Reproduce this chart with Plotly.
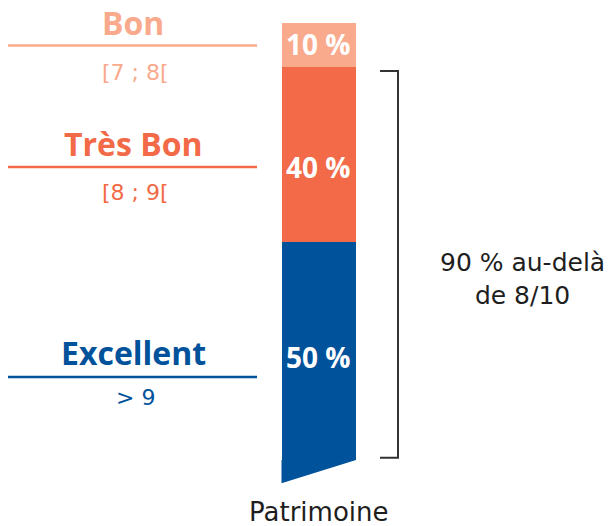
import plotly.graph_objects as go

# ---- data ----
category = "Patrimoine"
segments = ["Excellent", "Très Bon", "Bon"]
values = [50, 40, 10]
value_labels = ["50 %", "40 %", "10 %"]
ranges = ["> 9", "[8 ; 9[", "[7 ; 8["]
bracket_text = "90 % au-delà<br>de 8/10"
bracket_span = [0, 90]

colors = {"Excellent": "#00529B", "Très Bon": "#F26A47", "Bon": "#F9AA8C"}

W, H = 611, 526
# pixel geometry helpers
bar_left_px, bar_right_px = 281.5, 356
px_per_x = bar_right_px - bar_left_px
xc = (bar_left_px + bar_right_px) / 2
y0_px_top = 460
px_per_y = 4.37
x_range = [-xc / px_per_x, (W - xc) / px_per_x]
y_range = [-(H - y0_px_top) / px_per_y, y0_px_top / px_per_y]

def xd(px):
    return (px - xc) / px_per_x

def yp(px_top):
    return 1 - px_top / H

BOLD = "Open Sans"
REG = "DejaVu Sans"

fig = go.Figure()

base = 0
label_shift = {"Excellent": -6, "Très Bon": -13, "Bon": 1}
for seg, v, lab in zip(segments, values, value_labels):
    fig.add_trace(go.Bar(
        x=[0], y=[v], width=1, name=seg,
        marker=dict(color=colors[seg], line=dict(width=0)),
        hoverinfo="skip", showlegend=False,
    ))
    fig.add_annotation(
        x=0, y=base + v / 2, xref="x", yref="y", text=f"<b>{lab}</b>",
        showarrow=False, xanchor="center", yanchor="middle",
        yshift=label_shift[seg],
        font=dict(family=BOLD, size=28, color="white"),
    )
    base += v

# slanted bottom of the bar (decorative)
slant = 5.3
fig.add_trace(go.Scatter(
    x=[-0.5, 0.5, -0.5, -0.5], y=[0, 0, -slant, 0], mode="lines",
    fill="toself", fillcolor=colors["Excellent"], line=dict(width=0),
    hoverinfo="skip", showlegend=False,
))

# bracket
bx0, bx1 = xd(380), xd(398)
lo, hi = bracket_span[0] + 0.5, bracket_span[1] - 1.0
fig.add_trace(go.Scatter(
    x=[bx0, bx1, bx1, bx0], y=[hi, hi, lo, lo], mode="lines",
    line=dict(color="#333333", width=2), hoverinfo="skip", showlegend=False,
))

fig.add_annotation(
    x=xd(522), y=yp(279), xref="x", yref="paper", text=bracket_text,
    showarrow=False, xanchor="center", yanchor="middle",
    font=dict(family=REG, size=25, color="#1e1e1e"),
    align="center",
)

fig.add_annotation(
    x=0, y=yp(512), xref="x", yref="paper", text=category, showarrow=False,
    xanchor="center", yanchor="middle",
    font=dict(family=REG, size=26, color="#1e1e1e"),
)

# left labels
label_pos = {"Bon": (22, 45.5, 72), "Très Bon": (143, 167, 192), "Excellent": (352, 377, 397)}
for seg, rng in zip(segments, ranges):
    ty, ly, ry = label_pos[seg]
    c = colors[seg]
    fig.add_annotation(x=133 / W, y=yp(ty), xref="paper", yref="paper",
                       text=f"<b>{seg}</b>", showarrow=False,
                       xanchor="center", yanchor="middle",
                       font=dict(family=BOLD, size=32, color=c))
    fig.add_shape(type="line", xref="paper", yref="paper",
                  x0=8 / W, x1=257 / W, y0=yp(ly), y1=yp(ly),
                  line=dict(color=c, width=2.5))
    fig.add_annotation(x=135 / W, y=yp(ry), xref="paper", yref="paper",
                       text=rng, showarrow=False,
                       xanchor="center", yanchor="middle",
                       font=dict(family=REG, size=22, color=c))

fig.update_layout(
    width=W, height=H, margin=dict(l=0, r=0, t=0, b=0),
    barmode="stack", bargap=0,
    plot_bgcolor="white", paper_bgcolor="white",
    xaxis=dict(range=x_range, visible=False, fixedrange=True),
    yaxis=dict(range=y_range, visible=False, fixedrange=True),
)

fig.write_html("out.html", config={"displayModeBar": False})
